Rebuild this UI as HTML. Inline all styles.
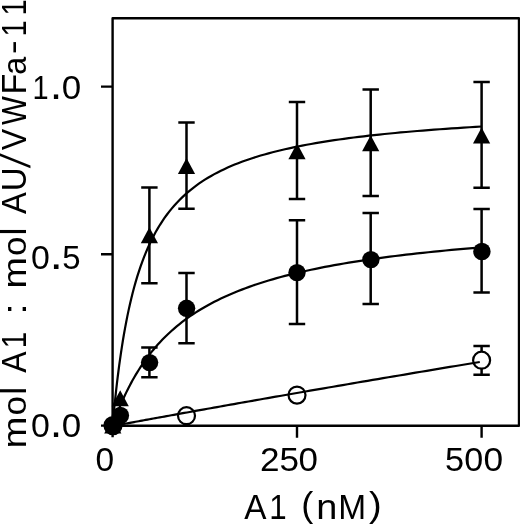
<!DOCTYPE html>
<html><head><meta charset="utf-8"><style>
html,body{margin:0;padding:0;background:#fff;}
body{width:520px;height:526px;overflow:hidden;}
svg{display:block;will-change:transform;font-family:"Liberation Sans",sans-serif;}
</style></head><body>
<svg width="520" height="526" viewBox="0 0 520 526">
<g fill="none" stroke="#000" stroke-width="2.4" stroke-linejoin="round" stroke-linecap="butt">
<path d="M112.6,425.8V18.2H519V425.8H112.6"/>
<path d="M101,86.6H112.6M101,254.2H112.6M101,425.6H112.6M112.6,425.8V437.3M297,425.8V437.8M481.6,425.8V437.8"/>
</g>
<g fill="none" stroke="#000" stroke-width="2.5">
<path d="M141.2,187.6H157.6M149.4,187.6V283.2M141.2,283.2H157.6"/>
<path d="M178.3,122.6H194.7M186.5,122.6V208.8M178.3,208.8H194.7"/>
<path d="M288.8,101.9H305.2M297.0,101.9V199M288.8,199H305.2"/>
<path d="M362.5,89.6H378.9M370.7,89.6V196.1M362.5,196.1H378.9"/>
<path d="M473.4,82.0H489.8M481.6,82.0V187.8M473.4,187.8H489.8"/>
<path d="M141.2,347.5H157.6M149.4,347.5V377.2M141.2,377.2H157.6"/>
<path d="M178.3,272.9H194.7M186.5,272.9V343.2M178.3,343.2H194.7"/>
<path d="M288.8,220.3H305.2M297.0,220.3V324M288.8,324H305.2"/>
<path d="M362.5,213H378.9M370.7,213V304.1M362.5,304.1H378.9"/>
<path d="M473.4,209H489.8M481.6,209V292.6M473.4,292.6H489.8"/>
<path d="M473.4,345.9H489.8M481.6,345.9V374.7M473.4,374.7H489.8"/>
</g>
<g fill="#fff" stroke="#000" stroke-width="2.2">
<circle cx="113" cy="425.6" r="8.5"/>
<circle cx="186.5" cy="415.7" r="8.5"/>
<circle cx="297.0" cy="395.1" r="8.5"/>
<circle cx="481.6" cy="360.2" r="8.5"/>
</g>
<g fill="#000">
<path d="M112.8,417.6L121.4,433.6L104.2,433.6Z"/>
<path d="M120.2,390.3L128.8,406.3L111.6,406.3Z"/>
<path d="M149.4,227.3L158.0,243.3L140.8,243.3Z"/>
<path d="M186.5,158.0L195.1,174.0L177.9,174.0Z"/>
<path d="M297.0,143.3L305.6,159.3L288.4,159.3Z"/>
<path d="M370.7,135.3L379.3,151.3L362.1,151.3Z"/>
<path d="M481.6,127.5L490.2,143.5L473.0,143.5Z"/>
<circle cx="113" cy="425.4" r="8.7"/>
<circle cx="120.4" cy="415.5" r="8.7"/>
<circle cx="149.6" cy="362.6" r="8.7"/>
<circle cx="186.6" cy="308.3" r="8.7"/>
<circle cx="297.0" cy="272.6" r="8.7"/>
<circle cx="370.9" cy="259.6" r="8.7"/>
<circle cx="481.9" cy="251.5" r="8.7"/>
</g>
<g fill="none" stroke="#000" stroke-width="2.2">
<polyline points="112.60,425.80 112.63,425.51 112.70,424.65 112.83,423.22 113.01,421.25 113.24,418.74 113.52,415.73 113.86,412.25 114.24,408.33 114.68,404.00 115.16,399.31 115.70,394.29 116.29,388.98 116.93,383.43 117.62,377.67 118.37,371.74 119.16,365.68 120.01,359.53 120.90,353.31 121.85,347.05 122.85,340.78 123.90,334.54 125.01,328.33 126.16,322.18 127.36,316.10 128.62,310.12 129.93,304.23 131.29,298.47 132.70,292.82 134.16,287.30 135.67,281.92 137.23,276.68 138.85,271.58 140.51,266.62 142.23,261.81 144.00,257.14 145.82,252.61 147.69,248.23 149.61,243.99 151.59,239.88 153.61,235.91 155.69,232.07 157.81,228.36 159.99,224.78 162.22,221.32 164.50,217.97 166.84,214.75 169.22,211.63 171.66,208.62 174.14,205.72 176.68,202.92 179.27,200.21 181.91,197.60 184.60,195.08 187.34,192.64 190.14,190.29 192.98,188.02 195.88,185.83 198.83,183.71 201.82,181.66 204.88,179.69 207.98,177.78 211.13,175.93 214.33,174.15 217.59,172.42 220.89,170.75 224.25,169.14 227.66,167.57 231.12,166.06 234.63,164.60 238.20,163.18 241.81,161.81 245.48,160.49 249.19,159.20 252.96,157.95 256.78,156.75 260.65,155.57 264.57,154.44 268.54,153.34 272.57,152.27 276.64,151.24 280.77,150.23 284.95,149.25 289.18,148.31 293.46,147.39 297.79,146.49 302.17,145.63 306.61,144.78 311.09,143.97 315.63,143.17 320.22,142.39 324.86,141.64 329.55,140.91 334.29,140.20 339.08,139.50 343.93,138.83 348.82,138.17 353.77,137.53 358.77,136.91 363.82,136.30 368.92,135.71 374.07,135.14 379.27,134.58 384.53,134.03 389.84,133.50 395.19,132.98 400.60,132.47 406.06,131.98 411.57,131.49 417.13,131.02 422.75,130.56 428.41,130.11 434.13,129.68 439.89,129.25 445.71,128.83 451.58,128.42 457.50,128.03 463.48,127.64 469.50,127.26 475.57,126.89 481.70,126.52"/>
<polyline points="112.60,425.80 112.63,425.73 112.70,425.50 112.83,425.13 113.01,424.62 113.24,423.96 113.52,423.16 113.86,422.23 114.24,421.16 114.68,419.96 115.16,418.63 115.70,417.19 116.29,415.63 116.93,413.96 117.62,412.19 118.37,410.33 119.16,408.37 120.01,406.32 120.90,404.20 121.85,402.01 122.85,399.75 123.90,397.44 125.01,395.07 126.16,392.65 127.36,390.20 128.62,387.71 129.93,385.19 131.29,382.64 132.70,380.08 134.16,377.51 135.67,374.92 137.23,372.34 138.85,369.75 140.51,367.16 142.23,364.59 144.00,362.02 145.82,359.47 147.69,356.93 149.61,354.41 151.59,351.92 153.61,349.45 155.69,347.01 157.81,344.59 159.99,342.20 162.22,339.85 164.50,337.52 166.84,335.23 169.22,332.98 171.66,330.76 174.14,328.57 176.68,326.42 179.27,324.31 181.91,322.23 184.60,320.19 187.34,318.19 190.14,316.22 192.98,314.29 195.88,312.40 198.83,310.55 201.82,308.73 204.88,306.94 207.98,305.20 211.13,303.49 214.33,301.81 217.59,300.17 220.89,298.56 224.25,296.99 227.66,295.45 231.12,293.94 234.63,292.46 238.20,291.02 241.81,289.61 245.48,288.22 249.19,286.87 252.96,285.54 256.78,284.25 260.65,282.98 264.57,281.74 268.54,280.53 272.57,279.34 276.64,278.18 280.77,277.04 284.95,275.93 289.18,274.85 293.46,273.78 297.79,272.74 302.17,271.72 306.61,270.73 311.09,269.75 315.63,268.80 320.22,267.87 324.86,266.95 329.55,266.06 334.29,265.19 339.08,264.33 343.93,263.49 348.82,262.67 353.77,261.87 358.77,261.08 363.82,260.31 368.92,259.56 374.07,258.82 379.27,258.10 384.53,257.39 389.84,256.70 395.19,256.02 400.60,255.35 406.06,254.70 411.57,254.06 417.13,253.44 422.75,252.83 428.41,252.23 434.13,251.64 439.89,251.06 445.71,250.50 451.58,249.94 457.50,249.40 463.48,248.87 469.50,248.34 475.57,247.83 481.70,247.33"/>
<polyline points="112.60,426.00 112.63,426.00 112.70,425.98 112.83,425.96 113.01,425.92 113.24,425.88 113.52,425.83 113.85,425.77 114.23,425.70 114.67,425.62 115.15,425.53 115.69,425.43 116.27,425.32 116.91,425.21 117.60,425.08 118.34,424.94 119.13,424.80 119.97,424.64 120.86,424.48 121.81,424.31 122.80,424.12 123.85,423.93 124.94,423.73 126.09,423.52 127.29,423.30 128.54,423.07 129.84,422.83 131.19,422.59 132.59,422.33 134.05,422.06 135.55,421.79 137.11,421.50 138.71,421.21 140.37,420.91 142.08,420.59 143.84,420.27 145.65,419.94 147.51,419.60 149.42,419.26 151.39,418.90 153.40,418.53 155.47,418.16 157.58,417.77 159.75,417.38 161.97,416.97 164.24,416.56 166.56,416.14 168.93,415.71 171.35,415.27 173.83,414.83 176.35,414.37 178.93,413.91 181.55,413.43 184.23,412.95 186.96,412.46 189.74,411.96 192.57,411.45 195.45,410.93 198.38,410.41 201.37,409.87 204.40,409.33 207.49,408.77 210.62,408.21 213.81,407.64 217.05,407.07 220.34,406.48 223.68,405.88 227.07,405.28 230.51,404.67 234.01,404.05 237.55,403.42 241.15,402.78 244.79,402.14 248.49,401.48 252.24,400.82 256.04,400.15 259.89,399.47 263.79,398.79 267.74,398.09 271.75,397.39 275.80,396.68 279.91,395.96 284.06,395.23 288.27,394.50 292.53,393.75 296.84,393.00 301.20,392.24 305.61,391.48 310.07,390.70 314.59,389.92 319.15,389.13 323.77,388.33 328.43,387.53 333.15,386.71 337.92,385.89 342.74,385.07 347.61,384.23 352.53,383.39 357.50,382.54 362.53,381.68 367.60,380.81 372.73,379.94 377.90,379.06 383.13,378.17 388.41,377.28 393.74,376.37 399.12,375.46 404.55,374.55 410.03,373.62 415.57,372.69 421.15,371.75 426.79,370.81 432.47,369.86 438.21,368.90 444.00,367.93 449.84,366.96 455.73,365.98 461.67,365.00 467.66,364.00 473.71,363.00 479.80,362.00"/>
</g>
<g fill="#000" font-family="Liberation Sans, sans-serif">
<text transform="translate(30.98,437.10) scale(1.040,1.000)" font-size="32.60">0</text>
<text transform="translate(49.68,437.10) scale(1.385,1.300)" font-size="32.60">.</text>
<text transform="translate(61.64,437.10) scale(1.072,1.000)" font-size="32.60">0</text>
<text transform="translate(30.98,268.80) scale(1.040,1.000)" font-size="32.60">0</text>
<text transform="translate(49.39,268.80) scale(1.482,1.300)" font-size="32.60">.</text>
<text transform="translate(62.18,268.80) scale(1.009,1.000)" font-size="32.60">5</text>
<text transform="translate(32.49,98.50) scale(0.889,1.000)" font-size="32.60">1</text>
<text transform="translate(49.68,98.50) scale(1.385,1.300)" font-size="32.60">.</text>
<text transform="translate(61.64,98.50) scale(1.072,1.000)" font-size="32.60">0</text>
<text transform="translate(95.49,471.20) scale(1.027,1.000)" font-size="32.60">0</text>
<text transform="translate(259.93,471.20) scale(1.077,1.000)" font-size="32.60">2</text>
<text transform="translate(279.40,471.20) scale(1.074,1.000)" font-size="32.60">5</text>
<text transform="translate(298.44,471.20) scale(1.072,1.000)" font-size="32.60">0</text>
<text transform="translate(444.88,471.20) scale(1.051,1.000)" font-size="32.60">5</text>
<text transform="translate(464.27,471.20) scale(1.046,1.000)" font-size="32.60">0</text>
<text transform="translate(483.62,471.20) scale(1.084,1.000)" font-size="32.60">0</text>
<text transform="translate(244.23,518.60) scale(0.932,1.000)" font-size="35.76">A</text>
<text transform="translate(269.31,518.60) scale(0.876,1.000)" font-size="35.76">1</text>
<text transform="translate(301.15,517.40) scale(1.057,1.000)" font-size="34.24">(</text>
<text transform="translate(316.28,518.60) scale(1.083,1.000)" font-size="35.00">n</text>
<text transform="translate(338.25,518.60) scale(0.936,1.000)" font-size="35.76">M</text>
<text transform="translate(368.88,517.40) scale(1.113,1.000)" font-size="34.24">)</text>
<g transform="rotate(-90)">
<text transform="translate(-448.45,25.70) scale(1.129,1.000)" font-size="34.00">m</text>
<text transform="translate(-415.48,25.70) scale(1.034,1.000)" font-size="34.00">o</text>
<text transform="translate(-394.63,25.70)" font-size="35.76">l</text>
<text transform="translate(-372.86,25.70) scale(0.890,1.000)" font-size="35.76">A</text>
<text transform="translate(-348.26,25.70) scale(0.830,1.000)" font-size="35.76">1</text>
<text transform="translate(-314.84,25.70) scale(1.236,1.000)" font-size="34.00">:</text>
<text transform="translate(-288.50,25.70) scale(1.108,1.000)" font-size="34.00">m</text>
<text transform="translate(-255.97,25.70) scale(1.028,1.000)" font-size="34.00">o</text>
<text transform="translate(-235.38,25.70)" font-size="35.76">l</text>
<text transform="translate(-214.06,25.70) scale(0.919,1.000)" font-size="35.76">A</text>
<text transform="translate(-191.35,25.70) scale(0.926,1.000)" font-size="35.76">U</text>
<text transform="translate(-168.13,30.36) skewX(-9.76) scale(1,1.19)" font-size="35.76">/</text>
<text transform="translate(-150.14,25.70) scale(0.901,1.000)" font-size="35.76">V</text>
<text transform="translate(-124.93,25.70) scale(0.851,1.000)" font-size="35.76">W</text>
<text transform="translate(-94.50,25.70) scale(0.955,1.000)" font-size="35.76">F</text>
<text transform="translate(-74.77,25.70) scale(0.950,1.000)" font-size="34.00">a</text>
<text transform="translate(-54.37,23.88) scale(1.241,1.000)" font-size="34.00">-</text>
<text transform="translate(-36.41,25.70) scale(0.811,1.000)" font-size="35.76">1</text>
<text transform="translate(-15.41,25.70) scale(0.811,1.000)" font-size="35.76">1</text>
</g>
</g>
</svg>
</body></html>
